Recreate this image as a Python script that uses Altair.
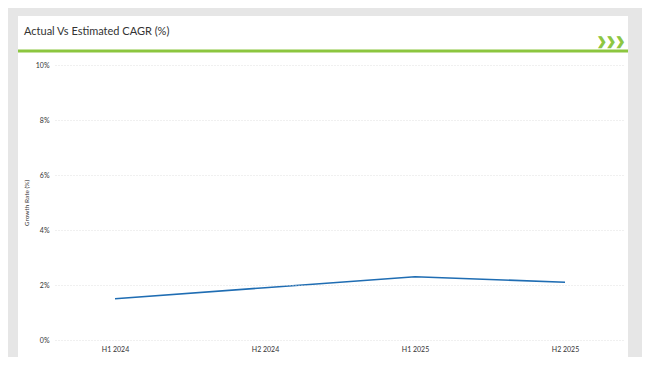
import altair as alt
import pandas as pd

periods = ["H1 2024", "H2 2024", "H1 2025", "H2 2025"]
growth = [1.5, 1.9, 2.3, 2.1]
y_ticks = [0, 2, 4, 6, 8, 10]
title_text = "Actual Vs Estimated CAGR (%)"
y_title = "Growth Rate (%)"

df = pd.DataFrame({"period": periods, "growth": growth})

FONT = "Lato"
W, H = 570, 275

# decorative card + header
card = alt.Chart(pd.DataFrame({"a": [0]})).mark_rect(color="white").encode(
    x=alt.value(-37), x2=alt.value(573), y=alt.value(-49), y2=alt.value(292)
)
green_rule = alt.Chart(pd.DataFrame({"a": [0]})).mark_rule(color="#8cc63f", strokeWidth=3).encode(
    x=alt.value(-37), x2=alt.value(573), y=alt.value(-14)
)
title = alt.Chart(pd.DataFrame({"t": [title_text]})).mark_text(
    align="left", baseline="middle", font=FONT, fontSize=11, color="#333333"
).encode(text="t:N", x=alt.value(-31), y=alt.value(-33))
chev = alt.Chart(pd.DataFrame({"t": ["❯❯❯"]})).mark_text(
    align="right", baseline="middle", font="DejaVu Sans", fontSize=11, fontWeight="bold",
    color="#8cc63f", stroke="#8cc63f", strokeWidth=1
).encode(text="t:N", x=alt.value(570), y=alt.value(-23))

line = alt.Chart(df).mark_line(color="#1f6db3", strokeWidth=1.6).encode(
    x=alt.X("period:N", sort=periods,
            scale=alt.Scale(type="point", padding=0.4),
            axis=alt.Axis(title=None, labelAngle=0, domain=False, ticks=False, grid=False,
                          zindex=1,
                          labelFont=FONT, labelFontSize=7, labelColor="#333333", labelPadding=5)),
    y=alt.Y("growth:Q", scale=alt.Scale(domain=[0, 10], nice=False),
            axis=alt.Axis(values=y_ticks, labelExpr="datum.value + '%'", title=y_title,
                          zindex=1,
                          domain=False, ticks=False, grid=True, gridColor="#d9d9d9",
                          gridDash=[1, 2], gridWidth=0.8,
                          labelFont=FONT, labelFontSize=7, labelColor="#333333", labelPadding=6,
                          titleFont=FONT, titleFontSize=6.5, titleFontWeight="normal",
                          titleColor="#333333", titlePadding=6)),
)

chart = alt.layer(card, green_rule, title, chev, line).properties(
    width=W, height=H,
    background="#e6e6e6",
    autosize=alt.AutoSizeParams(type="none"),
    padding={"left": 47, "top": 57, "right": 17, "bottom": 17},
).configure_view(stroke=None)

chart.save("out.html", embed_options={"renderer": "svg", "actions": False})
